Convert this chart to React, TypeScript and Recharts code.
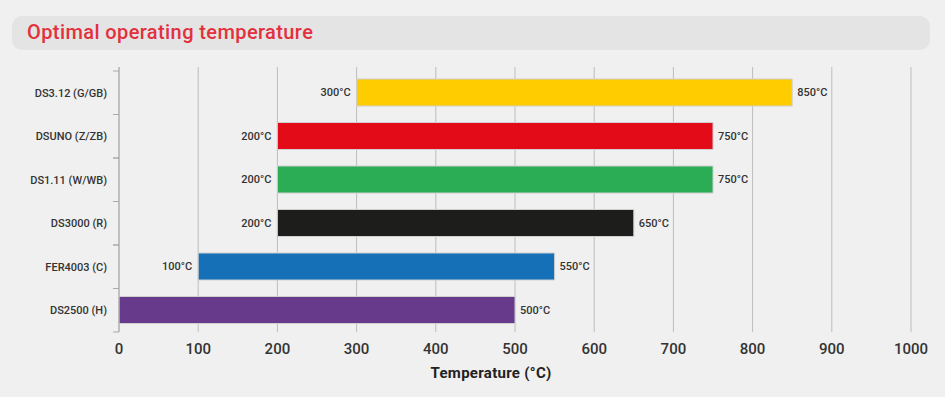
// Horizontal range-bar chart: optimal operating temperature span per product.
import { BarChart, Bar, XAxis, YAxis, CartesianGrid, Cell, LabelList } from 'recharts';

const products = ['DS3.12 (G/GB)', 'DSUNO (Z/ZB)', 'DS1.11 (W/WB)', 'DS3000 (R)', 'FER4003 (C)', 'DS2500 (H)'];
const minTemps = [300, 200, 200, 200, 100, 0];
const maxTemps = [850, 750, 750, 650, 550, 500];
const barColors = ['#ffcc00', '#e20b17', '#2aad55', '#1d1d1b', '#1570b8', '#673a8b'];
const xTicks = [0, 100, 200, 300, 400, 500, 600, 700, 800, 900, 1000];

const data = products.map((name, i) => ({ name, range: [minTemps[i], maxTemps[i]] }));

const FONT = 'Roboto, "Open Sans", sans-serif';

function CategoryTick(props: any) {
  const { x, y, payload } = props;
  const half = payload?.offset ?? 22;
  return (
    <g>
      <line x1={x - 6} x2={x} y1={y - half} y2={y - half} stroke="#aaa" />
      <line x1={x - 6} x2={x} y1={y + half} y2={y + half} stroke="#aaa" />
      <text x={x - 12} y={y} dy="0.35em" textAnchor="end" fontSize={11} fontWeight={500} fill="#333" fontFamily={FONT}>
        {payload.value}
      </text>
    </g>
  );
}

function RangeLabel(props: any) {
  const { x, y, width, height, value } = props;
  const [lo, hi] = value as number[];
  const cy = y + height / 2;
  return (
    <g fontSize={11} fontWeight={500} fill="#333" fontFamily={FONT}>
      {lo > 0 && (
        <text x={x - 6} y={cy} dy="0.35em" textAnchor="end">{`${lo}°C`}</text>
      )}
      <text x={x + width + 5} y={cy} dy="0.35em" textAnchor="start">{`${hi}°C`}</text>
    </g>
  );
}

export default function App() {
  return (
    <div style={{ position: 'absolute', left: 0, top: 0, width: 945, height: 397, background: '#f0f0f0', fontFamily: FONT }}>
      <div
        style={{
          position: 'absolute',
          left: 12,
          top: 16,
          width: 918,
          height: 34,
          borderRadius: 10,
          background: '#e4e4e4',
        }}
      >
        <div style={{ position: 'absolute', left: 15, top: 4, fontSize: 20, fontWeight: 500, letterSpacing: 0.4, color: '#e2303c' }}>
          Optimal operating temperature
        </div>
      </div>
      <div style={{ position: 'absolute', left: 0, top: 0 }}>
        <BarChart
          width={945}
          height={397}
          layout="vertical"
          data={data}
          margin={{ top: 67, right: 34, bottom: 15, left: 0 }}
        >
          <CartesianGrid vertical horizontal={false} stroke="#bdbdbd" />
          <XAxis
            type="number"
            domain={[0, 1000]}
            ticks={xTicks}
            axisLine={false}
            tickLine={false}
            tickMargin={5}
            height={50}
            tick={{ fontSize: 15, fontWeight: 500, fill: '#333', fontFamily: FONT }}
            label={{
              value: 'Temperature (°C)',
              position: 'insideBottom',
              offset: 4,
              dx: -24,
              style: { fontSize: 15, fontWeight: 700, fill: '#222', fontFamily: FONT, letterSpacing: 0.3 },
            }}
          />
          <YAxis
            type="category"
            dataKey="name"
            width={119}
            padding={{ top: 4, bottom: 0 }}
            axisLine={{ stroke: '#aaa' }}
            tickLine={false}
            tickSize={0}
            tickMargin={0}
            tick={<CategoryTick />}
            interval={0}
          />
          <Bar dataKey="range" barSize={27} stroke="#cfcfcf" strokeWidth={1} isAnimationActive={false}>
            {data.map((d, i) => (
              <Cell key={d.name} fill={barColors[i]} />
            ))}
            <LabelList dataKey="range" content={<RangeLabel />} />
          </Bar>
        </BarChart>
      </div>
    </div>
  );
}
